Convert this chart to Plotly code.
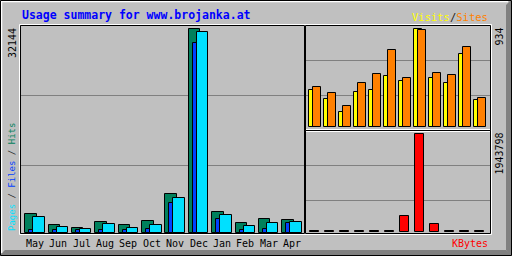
import plotly.graph_objects as go

# ---------------- data ----------------
months = ["May", "Jun", "Jul", "Aug", "Sep", "Oct", "Nov", "Dec", "Jan", "Feb", "Mar", "Apr"]
hits = [3056, 1317, 843, 1792, 1317, 1950, 6218, 32144, 3373, 1634, 2266, 2108]
files = [527, 420, 420, 420, 527, 685, 4795, 29933, 2266, 527, 685, 1634]
pages = [2582, 1001, 685, 1476, 843, 1317, 5586, 31670, 2898, 1159, 1634, 1792]
visits = [353, 267, 143, 334, 353, 486, 438, 934, 467, 419, 696, 257]
sites = [381, 324, 200, 419, 505, 734, 467, 925, 515, 496, 763, 276]
kbytes = [20000, 20000, 20000, 20000, 20000, 20000, 317355, 1943798, 158678, 20000, 20000, 20000]
title = "Usage summary for www.brojanka.at"
max_hits_label = "32144"
max_visits_label = "934"
max_kbytes_label = "1943798"

# ---------------- styling ----------------
W, H = 512, 256
BG = "#C0C0C0"
GRID = "#808080"
C_HITS, C_FILES, C_PAGES = "#00805C", "#0040FF", "#00E0FF"
C_VISITS, C_SITES, C_KB = "#FFFF00", "#FF8000", "#FF0000"
MONO = "DejaVu Sans Mono"

def px(x):
    return x / W

def py(y):
    return 1 - y / H

idx = list(range(len(months)))

# panel boxes (pixels): x0, x1, y0(top), y1(bottom)
PL = (20, 304, 25, 233)
PT = (305, 490, 25, 130)
PB = (305, 490, 130, 233)

# left panel scale
uL = 23.36
left0 = 25.3
baseL = 233.0
kL = max(hits) / (baseL - 29.3)
# right panels
uR = 15.0
right0 = 309.3
baseT = 127.2
kT = max(visits) / (baseT - 29.3)
baseB = 232.3
kB = max(kbytes) / (baseB - 134.3)

fig = go.Figure()
line = dict(color="black", width=1)

fig.add_trace(go.Bar(x=idx, y=hits, offset=0, width=11.4 / uL, marker=dict(color=C_HITS, line=line),
                     xaxis="x", yaxis="y"))
fig.add_trace(go.Bar(x=idx, y=files, offset=4 / uL, width=11.4 / uL, marker=dict(color=C_FILES, line=line),
                     xaxis="x", yaxis="y"))
fig.add_trace(go.Bar(x=idx, y=pages, offset=8 / uL, width=11.4 / uL, marker=dict(color=C_PAGES, line=line),
                     xaxis="x", yaxis="y"))
fig.add_trace(go.Bar(x=idx, y=visits, offset=0, width=7.4 / uR, marker=dict(color=C_VISITS, line=line),
                     xaxis="x2", yaxis="y2"))
fig.add_trace(go.Bar(x=idx, y=sites, offset=4 / uR, width=7.4 / uR, marker=dict(color=C_SITES, line=line),
                     xaxis="x2", yaxis="y2"))
fig.add_trace(go.Bar(x=idx, y=kbytes, offset=0.7 / uR, width=9.4 / uR, marker=dict(color=C_KB, line=line),
                     xaxis="x3", yaxis="y3"))

def xax(box, u, first):
    return dict(domain=[px(box[0]), px(box[1])],
                range=[-(first - box[0]) / u, (box[1] - first) / u],
                showgrid=False, zeroline=False, showticklabels=False, showline=False, fixedrange=True)

def yax(box, base, k, grid_px, anchor):
    return dict(domain=[py(box[3]), py(box[2])],
                range=[-(box[3] - base) * k, (base - box[2]) * k],
                tickvals=[(base - g) * k for g in grid_px], showgrid=True, gridcolor=GRID, gridwidth=1,
                zeroline=False, showticklabels=False, showline=False, anchor=anchor, fixedrange=True)

fig.update_layout(
    width=W, height=H, margin=dict(l=0, r=0, t=0, b=0),
    paper_bgcolor=BG, plot_bgcolor="rgba(0,0,0,0)",
    barmode="overlay", showlegend=False, bargap=0,
    xaxis=xax(PL, uL, left0),
    yaxis=yax(PL, baseL, kL, [95.3, 165.3], "x"),
    xaxis2=xax(PT, uR, right0),
    yaxis2=yax(PT, baseT, kT, [60.3, 95.3], "x2"),
    xaxis3=xax(PB, uR, right0),
    yaxis3=yax(PB, baseB, kB, [165.3, 200.3], "x3"),
)
fig.update_layout(xaxis=dict(anchor="y"), xaxis2=dict(anchor="y2"), xaxis3=dict(anchor="y3"))

shapes = []
# outer frame: shadow bands (bottom/right), highlight (top/left), black outline
shapes.append(dict(type="path", xref="paper", yref="paper",
                   path=f"M {px(511)} {py(0)} L {px(511)} {py(256)} L {px(506)} {py(250)} L {px(506)} {py(5)} Z",
                   fillcolor=GRID, line=dict(width=0)))
shapes.append(dict(type="path", xref="paper", yref="paper",
                   path=f"M {px(0)} {py(255)} L {px(512)} {py(255)} L {px(506)} {py(250)} L {px(5)} {py(250)} Z",
                   fillcolor=GRID, line=dict(width=0)))
shapes.append(dict(type="line", xref="paper", yref="paper", x0=px(1), x1=px(508), y0=py(1.5), y1=py(1.5),
                   line=dict(color="white", width=1.5)))
shapes.append(dict(type="line", xref="paper", yref="paper", x0=px(1.5), x1=px(1.5), y0=py(1), y1=py(253),
                   line=dict(color="white", width=1.5)))
shapes.append(dict(type="rect", xref="paper", yref="paper", x0=px(0.5), x1=px(511.5), y0=py(0.5), y1=py(255.5),
                   line=dict(color="black", width=1)))
# panel borders
for b in (PL, PT, PB):
    shapes.append(dict(type="rect", xref="paper", yref="paper",
                       x0=px(b[0] - 0.5), x1=px(b[1] + 1.5), y0=py(b[3] + 1.5), y1=py(b[2] - 0.5),
                       line=dict(color="white", width=1)))
for b in (PL, PT, PB):
    shapes.append(dict(type="rect", xref="paper", yref="paper",
                       x0=px(b[0] + 0.5), x1=px(b[1] + 0.5), y0=py(b[3] + 0.5), y1=py(b[2] + 0.5),
                       line=dict(color="black", width=1)))
fig.update_layout(shapes=shapes)

ann = []
ann.append(dict(text=f"<b>{title}</b>", x=px(20), y=py(15), xref="paper", yref="paper",
                xanchor="left", yanchor="middle", showarrow=False,
                font=dict(family=MONO, size=11.5, color="#0000FF")))
ann.append(dict(text=f'<span style="color:{C_VISITS}">Visits</span>/<span style="color:{C_SITES}">Sites</span>',
                x=px(490), y=py(17), xref="paper", yref="paper", xanchor="right", yanchor="middle",
                showarrow=False, font=dict(family=MONO, size=10.5, color="#202020")))
ann.append(dict(text="KBytes", x=px(490), y=py(243), xref="paper", yref="paper", xanchor="right",
                yanchor="middle", showarrow=False, font=dict(family=MONO, size=10, color=C_KB)))
for i, m in enumerate(months):
    ann.append(dict(text=m, x=i + 9.7 / uL, y=py(243), xref="x", yref="paper", xanchor="center",
                    yanchor="middle", showarrow=False, font=dict(family=MONO, size=10, color="black")))
ann.append(dict(text=max_hits_label, x=px(12), y=py(26), xref="paper", yref="paper", xanchor="center",
                yanchor="top", textangle=-90, showarrow=False, font=dict(family=MONO, size=10, color="black")))
ann.append(dict(text=max_visits_label, x=px(498.5), y=py(26), xref="paper", yref="paper", xanchor="center",
                yanchor="top", textangle=-90, showarrow=False, font=dict(family=MONO, size=10, color="black")))
ann.append(dict(text=max_kbytes_label, x=px(498.5), y=py(131), xref="paper", yref="paper", xanchor="center",
                yanchor="top", textangle=-90, showarrow=False, font=dict(family=MONO, size=10, color="black")))
ann.append(dict(text=f'<span style="color:{C_PAGES}">Pages</span> / <span style="color:{C_FILES}">Files</span>'
                     f' / <span style="color:{C_HITS}">Hits</span>',
                x=px(12), y=py(233), xref="paper", yref="paper", xanchor="center", yanchor="bottom",
                textangle=-90, showarrow=False, font=dict(family=MONO, size=9, color="#202020")))
fig.update_layout(annotations=ann)

fig.write_html("out.html")
